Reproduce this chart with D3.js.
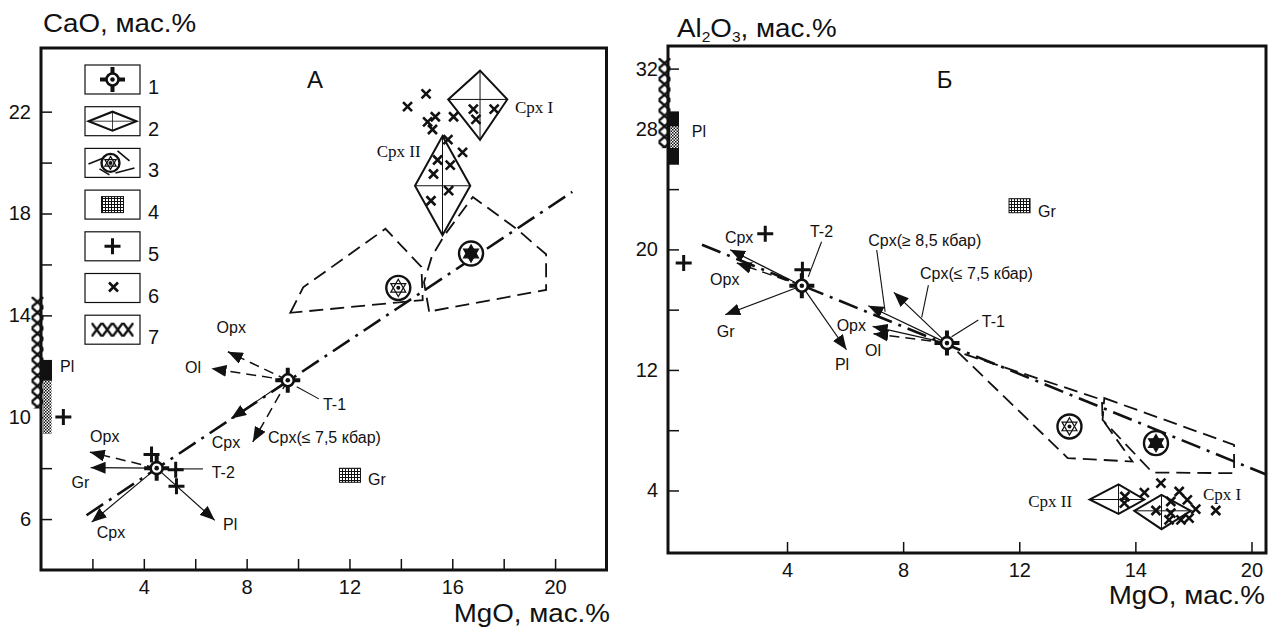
<!DOCTYPE html>
<html>
<head>
<meta charset="utf-8">
<script src="https://cdn.jsdelivr.net/npm/d3@7"></script>
<style>
  body { margin: 0; background: #fff; }
  text { font-family: "Liberation Sans", Arial, sans-serif; fill: #111; }
  .serif { font-family: "Liberation Serif", "Times New Roman", serif; }
</style>
</head>
<body>
<svg id="chart" width="1274" height="630"></svg>
<script>
// ---------- panel A : MgO vs CaO ----------
const aXTicks = [2, 4, 6, 8, 10, 12, 14, 16, 18, 20];
const aXLabelAt = [4, 8, 12, 16, 20];
const aXLabelText = ["4", "8", "12", "16", "20"];
const aYTicks = [6, 8, 10, 12, 14, 16, 18, 20, 22];
const aYLabelAt = [6, 10, 14, 18, 22];
const aYLabelText = ["6", "10", "14", "18", "22"];

const aTargets = [{id: "T-1", mgo: 9.6, ox: 11.45}, {id: "T-2", mgo: 4.5, ox: 8.0}];
const aPlus = [[4.3, 8.54], [5.24, 7.94], [5.27, 7.29], [0.87, 10.01]];
const aCross = [[14.26, 22.2], [14.98, 22.7], [15.04, 21.6], [15.34, 21.8], [15.23, 21.3],
  [16.05, 21.8], [16.82, 22.1], [16.92, 21.7], [17.63, 22.1], [15.83, 20.9], [16.4, 20.4],
  [15.43, 20.1], [15.92, 19.9], [15.27, 19.55], [15.86, 18.9], [15.17, 18.5]];
const aDiamonds = [
  {name: "Cpx I", mgo: 17.08, ox: 22.48, mgoMin: 15.84, mgoMax: 18.14, oxMin: 20.89, oxMax: 23.61},
  {name: "Cpx II", mgo: 15.62, ox: 19.09, mgoMin: 14.55, mgoMax: 16.7, oxMin: 17.15, oxMax: 21.04}];
const aStars = [{mgo: 13.9, ox: 15.08, filled: false}, {mgo: 16.73, ox: 16.43, filled: true}];
const aFields = [
  [[9.7, 14.1], [10.2, 15.1], [13.4, 17.4], [14.8, 15.9], [14.85, 14.6]],
  [[15.1, 14.15], [14.9, 15.3], [15.2, 16.3], [15.7, 17.15], [16.8, 18.65], [18.5, 17.4], [19.3, 16.7], [19.65, 16.4], [19.65, 15.0]]];
const aTrend = [[1.77, 6.15], [20.67, 18.85]];
const aArrows = [
  {from: "T-1", to: [7.27, 12.57], dashed: true},   // Opx
  {from: "T-1", to: [6.63, 11.91], dashed: true},   // Ol
  {from: "T-1", to: [7.4, 9.95], dashed: false},    // Cpx
  {from: "T-1", to: [8.24, 9.03], dashed: true},    // Cpx(<=7,5)
  {from: "T-2", to: [1.9, 8.63], dashed: true},     // Opx
  {from: "T-2", to: [1.93, 8.02], dashed: false},   // Gr
  {from: "T-2", to: [1.97, 5.88], dashed: false},   // Cpx
  {from: "T-2", to: [6.76, 5.95], dashed: false}];  // Pl
const aLeaders = [[[9.95, 11.2], [10.81, 10.72]], [[5.28, 7.97], [6.3, 7.97]]];
const aLabels = [
  {t: "Opx", at: [6.83, 13.31]}, {t: "Ol", at: [5.6, 11.74]}, {t: "Cpx", at: [6.64, 8.79]},
  {t: "Cpx(≤ 7,5 кбар)", at: [8.83, 8.99]}, {t: "T-1", at: [10.97, 10.28]},
  {t: "Opx", at: [1.91, 9.03]}, {t: "Gr", at: [1.19, 7.22]}, {t: "T-2", at: [6.64, 7.61]},
  {t: "Cpx", at: [2.17, 5.26]}, {t: "Pl", at: [7.08, 5.57]}, {t: "Gr", at: [12.72, 7.34]},
  {t: "Pl", at: [0.74, 11.78]}];
const aSerifLabels = [{t: "Cpx I", at: [18.44, 21.95]}, {t: "Cpx II", at: [13.06, 20.22]}];
const aLetter = {t: "А", at: [10.35, 22.93]};
const aGr = [12.02, 7.72];
const aPlBlack = [11.43, 12.25], aPlCheck = [9.34, 11.43];
const aXCol = [10.34, 14.73];

// ---------- panel Б : MgO vs Al2O3 ----------
const bXTicks = [4, 8, 12, 16, 20];
const bXLabelAt = [4, 8, 12, 16, 20];
const bXLabelText = ["4", "8", "12", "14", "20"];
const bYTicks = [4, 8, 12, 16, 20, 24, 28, 32];
const bYLabelAt = [4, 12, 20, 28, 32];
const bYLabelText = ["4", "12", "20", "28", "32"];

const bTargets = [{id: "T-1", mgo: 9.51, ox: 13.78}, {id: "T-2", mgo: 4.51, ox: 17.59}];
const bPlus = [[3.25, 21.04], [0.44, 19.1], [4.53, 18.65]];
const bCross = [[15.64, 3.6], [15.62, 3.16], [16.31, 3.86], [16.88, 4.49], [16.71, 2.67],
  [17.22, 3.27], [17.51, 3.93], [17.79, 3.38], [17.22, 2.5], [18.08, 2.76], [17.57, 2.05],
  [17.85, 2.16], [18.77, 2.67], [17.16, 2.05]];
const bDiamonds = [
  {name: "Cpx I", mgo: 16.9, ox: 2.65, mgoMin: 15.96, mgoMax: 17.91, oxMin: 1.43, oxMax: 3.71},
  {name: "Cpx II", mgo: 15.42, ox: 3.4, mgoMin: 14.42, mgoMax: 16.31, oxMin: 2.44, oxMax: 4.41}];
const bStars = [{mgo: 13.73, ox: 8.25, filled: false}, {mgo: 16.71, ox: 7.14, filled: true}];
const bFields = [
  [[9.88, 13.2], [13.67, 6.15], [15.9, 5.92], [14.87, 8.69], [14.85, 10.02]],
  [[14.93, 10.13], [19.4, 7.03], [19.4, 5.15], [16.59, 5.19], [14.87, 8.69]]];
const bTrend = [[1.07, 20.31], [20.53, 5.04]];
const bArrows = [
  {from: "T-2", to: [2.04, 19.98], dashed: false},  // Cpx
  {from: "T-2", to: [2.27, 19.1], dashed: true},    // Opx
  {from: "T-2", to: [1.87, 15.66], dashed: false},  // Gr
  {from: "T-2", to: [6.05, 13.34], dashed: false},  // Pl
  {from: "T-1", to: [6.8, 16.26], dashed: false},   // Cpx(>=8,5)
  {from: "T-1", to: [7.68, 17.15], dashed: false},  // Cpx(<=7,5)
  {from: "T-1", to: [6.95, 14.89], dashed: false},  // Opx
  {from: "T-1", to: [6.97, 14.4], dashed: true}];   // Ol
const bLeaders = [[[5.19, 20.51], [4.73, 18.18]], [[7.09, 19.96], [7.38, 15.86]],
  [[8.87, 17.63], [8.64, 15.49]], [[9.67, 14.2], [10.59, 15.31]]];
const bLabels = [
  {t: "Cpx", at: [1.86, 20.42]}, {t: "Opx", at: [1.35, 17.63]}, {t: "Gr", at: [1.58, 14.18]},
  {t: "Pl", at: [5.65, 12.0]}, {t: "T-2", at: [4.79, 20.82]}, {t: "Cpx(≥ 8,5 кбар)", at: [6.8, 20.22]},
  {t: "Cpx(≤ 7,5 кбар)", at: [8.58, 18.03]}, {t: "Opx", at: [5.71, 14.58]}, {t: "Ol", at: [6.69, 12.92]},
  {t: "T-1", at: [10.71, 14.85]}, {t: "Gr", at: [12.65, 22.15]}, {t: "Pl", at: [0.72, 27.45]}];
const bSerifLabels = [{t: "Cpx II", at: [12.31, 2.9]}, {t: "Cpx I", at: [18.33, 3.37]}];
const bLetter = {t: "Б", at: [9.16, 30.71]};
const bGr = [12.01, 22.9];
const bPlBlack = [25.62, 29.16], bPlCheck = [26.73, 28.17];
const bXCol = [26.72, 32.7];

// legend (panel A)
const legendText = ["1", "2", "3", "4", "5", "6", "7"];

const ink = "#111";
const svg = d3.select("#chart");
const defs = svg.append("defs");

defs.append("marker").attr("id", "arrow")
  .attr("viewBox", "0 0 15 12").attr("refX", 15).attr("refY", 6)
  .attr("markerWidth", 15).attr("markerHeight", 12)
  .attr("markerUnits", "userSpaceOnUse").attr("orient", "auto")
  .append("path").attr("d", "M0,0L15,6L0,12Z").attr("fill", ink);

const pc = defs.append("pattern").attr("id", "check").attr("width", 3).attr("height", 3).attr("patternUnits", "userSpaceOnUse");
pc.append("rect").attr("width", 3).attr("height", 3).attr("fill", "#fff");
pc.append("rect").attr("width", 1.5).attr("height", 1.5).attr("fill", ink);
pc.append("rect").attr("x", 1.5).attr("y", 1.5).attr("width", 1.5).attr("height", 1.5).attr("fill", ink);

const pg = defs.append("pattern").attr("id", "grid").attr("width", 3).attr("height", 3).attr("patternUnits", "userSpaceOnUse");
pg.append("rect").attr("width", 3).attr("height", 3).attr("fill", "#fff");
pg.append("path").attr("d", "M0,0.5H3M0.5,0V3").attr("stroke", ink).attr("stroke-width", 1);

let patN = 0;
function xChain(g, x0, y0, w, h, cw, ch) {
  const id = "xc" + (patN++);
  const p = defs.append("pattern").attr("id", id).attr("x", x0).attr("y", y0)
    .attr("width", cw).attr("height", ch).attr("patternUnits", "userSpaceOnUse");
  p.append("path").attr("d", `M0,0L${cw},${ch}M${cw},0L0,${ch}`).attr("stroke", ink).attr("stroke-width", 2.4);
  g.append("rect").attr("x", x0).attr("y", y0).attr("width", w).attr("height", h).attr("fill", `url(#${id})`);
}

function target(g, cx, cy) {
  const t = g.append("g").attr("transform", `translate(${cx},${cy})`);
  t.append("path").attr("d", "M0,-12.5V-6M0,6V12.5M-12.5,0H-6M6,0H12.5").attr("stroke", ink).attr("stroke-width", 4);
  t.append("circle").attr("r", 6).attr("fill", "#fff").attr("stroke", ink).attr("stroke-width", 2.6);
  t.append("circle").attr("r", 2.3).attr("fill", ink);
}

function tri(R, rot) {
  return d3.range(3).map(i => {
    const a = (rot + i * 120 - 90) * Math.PI / 180;
    return [R * Math.cos(a), R * Math.sin(a)];
  });
}

function star(g, cx, cy, filled, r) {
  r = r || 12;
  const s = g.append("g").attr("transform", `translate(${cx},${cy})`);
  s.append("circle").attr("r", r).attr("fill", "#fff").attr("stroke", ink).attr("stroke-width", 2.4);
  const R = r * 0.72;
  [0, 180].forEach(rot => {
    s.append("path").attr("d", "M" + tri(R, rot).join("L") + "Z")
      .attr("fill", filled ? ink : "none").attr("stroke", ink).attr("stroke-width", 1.2);
  });
  if (!filled) s.append("circle").attr("r", 2).attr("fill", ink);
}

function plus(g, cx, cy) {
  g.append("path").attr("d", `M${cx - 8},${cy}H${cx + 8}M${cx},${cy - 8}V${cy + 8}`)
    .attr("stroke", ink).attr("stroke-width", 3);
}
function cross(g, cx, cy) {
  g.append("path").attr("d", `M${cx - 4.5},${cy - 4.5}L${cx + 4.5},${cy + 4.5}M${cx + 4.5},${cy - 4.5}L${cx - 4.5},${cy + 4.5}`)
    .attr("stroke", ink).attr("stroke-width", 2.6);
}
function grBox(g, cx, cy, w, h) {
  g.append("rect").attr("x", cx - w / 2).attr("y", cy - h / 2).attr("width", w).attr("height", h)
    .attr("fill", "url(#grid)").attr("stroke", ink).attr("stroke-width", 1);
}

function drawPanel(p) {
  const g = svg.append("g");
  const x = d3.scaleLinear().domain(p.xDomain).range([p.left, p.right]);
  const y = d3.scaleLinear().domain(p.yDomain).range([p.bottom, p.top]);
  const line = d3.line().x(d => x(d[0])).y(d => y(d[1]));

  // axes with inward ticks
  const fx = d => { const i = p.xLabelAt.indexOf(d); return i < 0 ? "" : p.xLabelText[i]; };
  const fy = d => { const i = p.yLabelAt.indexOf(d); return i < 0 ? "" : p.yLabelText[i]; };
  const ax = g.append("g").attr("transform", `translate(0,${p.bottom})`)
    .call(d3.axisBottom(x).tickValues(p.xTicks).tickSize(-11).tickPadding(10).tickFormat(fx));
  const ay = g.append("g").attr("transform", `translate(${p.left},0)`)
    .call(d3.axisLeft(y).tickValues(p.yTicks).tickSize(-11).tickPadding(10).tickFormat(fy));
  [ax, ay].forEach(a => {
    a.select(".domain").remove();
    a.attr("font-size", 20).attr("font-family", "Liberation Sans, Arial, sans-serif");
    a.selectAll("line").attr("stroke", ink).attr("stroke-width", 1.5);
    a.selectAll("text").attr("fill", ink);
  });

  // dashed fields
  g.selectAll(null).data(p.fields).join("path")
    .attr("d", d => line(d) + "Z").attr("fill", "none").attr("stroke", ink)
    .attr("stroke-width", 1.8).attr("stroke-dasharray", "14,7");

  // trend
  g.append("path").attr("d", line(p.trend)).attr("fill", "none").attr("stroke", ink)
    .attr("stroke-width", 2.6).attr("stroke-dasharray", "20,7,3,7");

  // arrows
  const tgt = {};
  p.targets.forEach(t => tgt[t.id] = t);
  g.selectAll(null).data(p.arrows).join("line")
    .attr("x1", d => x(tgt[d.from].mgo)).attr("y1", d => y(tgt[d.from].ox))
    .attr("x2", d => x(d.to[0])).attr("y2", d => y(d.to[1]))
    .attr("stroke", ink).attr("stroke-width", d => d.dashed ? 1.5 : 1.2)
    .attr("stroke-dasharray", d => d.dashed ? "10,6" : null)
    .attr("marker-end", "url(#arrow)");

  // leader lines
  g.selectAll(null).data(p.leaders).join("path")
    .attr("d", d => line(d)).attr("stroke", ink).attr("stroke-width", 1.1);

  // diamonds
  p.diamonds.forEach(d => {
    const pts = [[d.mgoMin, d.ox], [d.mgo, d.oxMax], [d.mgoMax, d.ox], [d.mgo, d.oxMin]];
    g.append("path").attr("d", line(pts) + "Z").attr("fill", "none")
      .attr("stroke", ink).attr("stroke-width", 2);
    g.append("path").attr("d", line([[d.mgoMin, d.ox], [d.mgoMax, d.ox]]) + line([[d.mgo, d.oxMin], [d.mgo, d.oxMax]]))
      .attr("stroke", ink).attr("stroke-width", 1);
  });

  p.cross.forEach(d => cross(g, x(d[0]), y(d[1])));
  p.plus.forEach(d => plus(g, x(d[0]), y(d[1])));
  p.stars.forEach(d => star(g, x(d.mgo), y(d.ox), d.filled));
  p.targets.forEach(d => target(g, x(d.mgo), y(d.ox)));
  grBox(g, x(p.gr[0]), y(p.gr[1]), 21, 14);

  // columns on the oxide axis
  xChain(g, p.left - 9.5, y(p.xcol[1]), 12, y(p.xcol[0]) - y(p.xcol[1]), 12, 10.5);
  g.append("rect").attr("x", p.left).attr("y", y(p.plBlack[1])).attr("width", 11)
    .attr("height", y(p.plBlack[0]) - y(p.plBlack[1])).attr("fill", ink);
  g.append("rect").attr("x", p.left + 2).attr("y", y(p.plCheck[1])).attr("width", 8.5)
    .attr("height", y(p.plCheck[0]) - y(p.plCheck[1])).attr("fill", "url(#check)");

  // labels
  g.selectAll(null).data(p.labels).join("text")
    .attr("x", d => x(d.at[0])).attr("y", d => y(d.at[1])).attr("font-size", 16).text(d => d.t);
  g.selectAll(null).data(p.serifLabels).join("text").attr("class", "serif")
    .attr("x", d => x(d.at[0])).attr("y", d => y(d.at[1])).attr("font-size", 17).text(d => d.t);
  g.append("text").attr("x", x(p.letter.at[0])).attr("y", y(p.letter.at[1]))
    .attr("font-size", 24).text(p.letter.t);

  // frame
  g.append("rect").attr("x", p.left).attr("y", p.top).attr("width", p.right - p.left)
    .attr("height", p.bottom - p.top).attr("fill", "none").attr("stroke", ink).attr("stroke-width", 3);
  return g;
}

drawPanel({
  left: 41, right: 606.5, top: 48, bottom: 570, xDomain: [0, 22], yDomain: [4, 24.5],
  xTicks: aXTicks, xLabelAt: aXLabelAt, xLabelText: aXLabelText,
  yTicks: aYTicks, yLabelAt: aYLabelAt, yLabelText: aYLabelText,
  targets: aTargets, plus: aPlus, cross: aCross, diamonds: aDiamonds, stars: aStars,
  fields: aFields, trend: aTrend, arrows: aArrows, leaders: aLeaders, labels: aLabels,
  serifLabels: aSerifLabels, letter: aLetter, gr: aGr, plBlack: aPlBlack, plCheck: aPlCheck, xcol: aXCol
});

drawPanel({
  left: 668, right: 1266, top: 46, bottom: 553, xDomain: [-0.1, 20.5], yDomain: [-0.15, 33.5],
  xTicks: bXTicks, xLabelAt: bXLabelAt, xLabelText: bXLabelText,
  yTicks: bYTicks, yLabelAt: bYLabelAt, yLabelText: bYLabelText,
  targets: bTargets, plus: bPlus, cross: bCross, diamonds: bDiamonds, stars: bStars,
  fields: bFields, trend: bTrend, arrows: bArrows, leaders: bLeaders, labels: bLabels,
  serifLabels: bSerifLabels, letter: bLetter, gr: bGr, plBlack: bPlBlack, plCheck: bPlCheck, xcol: bXCol
});

// legend boxes in panel A
const lg = svg.append("g");
legendText.forEach((t, i) => {
  const top = 65 + i * 41.7, cx = 112.5, cy = top + 14.5;
  lg.append("rect").attr("x", 85).attr("y", top).attr("width", 55).attr("height", 29)
    .attr("fill", "#fff").attr("stroke", ink).attr("stroke-width", 1.2);
  lg.append("text").attr("x", 148).attr("y", top + 29).attr("font-size", 20).text(t);
  if (i === 0) target(lg, cx, cy);
  if (i === 1) {
    lg.append("path").attr("d", `M${cx - 24},${cy}L${cx},${cy - 9.5}L${cx + 24},${cy}L${cx},${cy + 9.5}Z`)
      .attr("fill", "none").attr("stroke", ink).attr("stroke-width", 2);
    lg.append("path").attr("d", `M${cx - 24},${cy}H${cx + 24}M${cx},${cy - 9.5}V${cy + 9.5}`)
      .attr("stroke", ink).attr("stroke-width", 0.8);
  }
  if (i === 2) {
    lg.append("path").attr("d", `M${cx - 24},${cy + 1}L${cx - 9},${cy - 5}M${cx + 5},${cy - 12}L${cx + 17},${cy - 2}M${cx + 3},${cy + 10}L${cx + 22},${cy + 5}M${cx - 13},${cy + 6}L${cx - 3},${cy + 12}`)
      .attr("stroke", ink).attr("stroke-width", 1.6);
    star(lg, cx - 2, cy, false, 9);
  }
  if (i === 3) grBox(lg, cx, cy, 22, 16);
  if (i === 4) plus(lg, cx, cy);
  if (i === 5) cross(lg, cx + 1, cy - 1);
  if (i === 6) xChain(lg, cx - 21, cy - 7, 42, 14, 10.5, 14);
});

// axis titles (slightly widened, as in the original)
function title(x, y, anchor) {
  return svg.append("text").attr("font-size", 25).attr("text-anchor", anchor)
    .attr("transform", `translate(${x},${y}) scale(1.11,1)`);
}
title(43, 32, "start").text("CaO, мас.%");
title(610, 622, "end").text("MgO, мас.%");
title(1265, 604, "end").text("MgO, мас.%");
const tb = title(677, 37, "start");
tb.append("tspan").text("Al");
tb.append("tspan").attr("font-size", 14).attr("dy", 5).text("2");
tb.append("tspan").attr("dy", -5).text("O");
tb.append("tspan").attr("font-size", 14).attr("dy", 5).text("3");
tb.append("tspan").attr("dy", -5).text(", мас.%");
</script>
</body>
</html>
